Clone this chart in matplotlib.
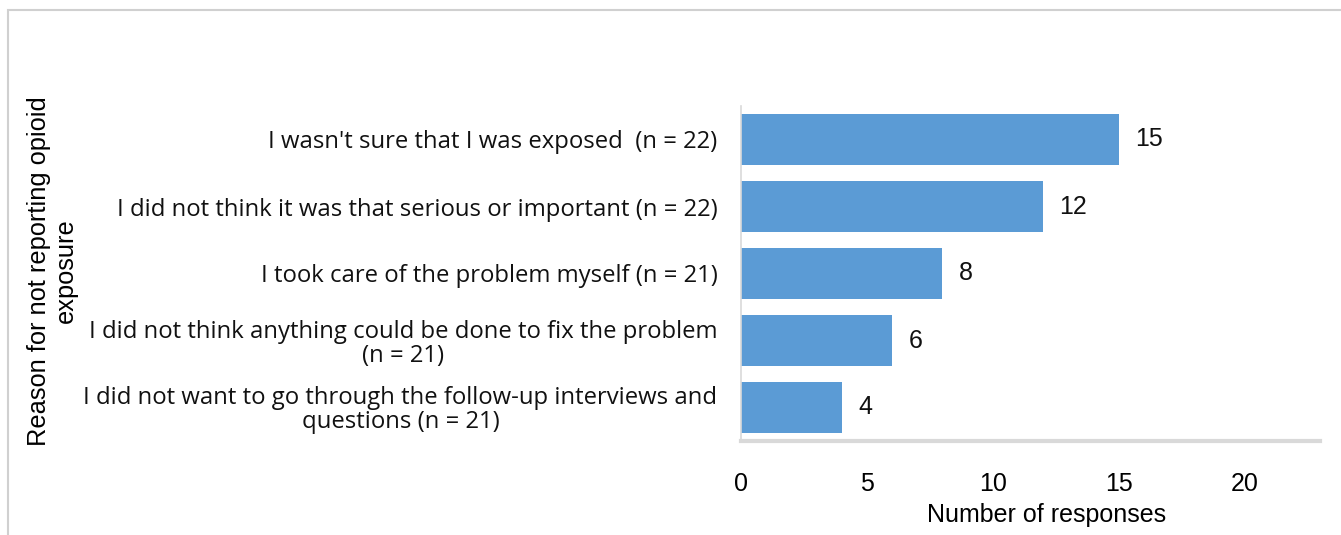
import matplotlib
matplotlib.use("Agg")
import matplotlib.pyplot as plt
from matplotlib.patches import Rectangle

categories = [
    "I wasn't sure that I was exposed  (n = 22)",
    "I did not think it was that serious or important (n = 22)",
    "I took care of the problem myself (n = 21)",
    "I did not think anything could be done to fix the problem\n(n = 21)",
    "I did not want to go through the follow-up interviews and\nquestions (n = 21)",
]
values = [15, 12, 8, 6, 4]
xticks = [0, 5, 10, 15, 20]

W, H = 1341, 535
fig = plt.figure(figsize=(W / 100, H / 100), dpi=100)
fig.patch.set_facecolor("white")

# outer chart border (top and left visible)
fig.patches.append(Rectangle((8 / W, -0.1), 1.2, 1.1 - 10 / H, transform=fig.transFigure,
                             fill=False, edgecolor="#d0d0d0", linewidth=1.5))

ax = fig.add_axes([741 / W, 1 - 441 / H, (1320 - 741) / W, (441 - 106) / H])
y = list(range(len(categories)))
ax.barh(y, values, height=0.76, color="#5b9bd5", edgecolor="none")
ax.set_ylim(len(categories) - 0.5, -0.5)
ax.set_xlim(0, 23)
ax.set_yticks(y)
ax.set_yticklabels(categories, fontsize=17.2, family="Open Sans", color="#111111",
                   multialignment="center", linespacing=1.0)
ax.set_xticks(xticks)
ax.set_xticklabels([str(t) for t in xticks], fontsize=18, family="Liberation Sans")
ax.tick_params(axis="both", length=0)
ax.tick_params(axis="x", pad=22)
ax.tick_params(axis="y", pad=17)

for s in ["top", "right"]:
    ax.spines[s].set_visible(False)
ax.spines["left"].set_color("#d9d9d9")
ax.spines["left"].set_linewidth(1.2)
ax.spines["bottom"].set_color("#d9d9d9")
ax.spines["bottom"].set_linewidth(3)

for yi, v in zip(y, values):
    ax.text(v + 0.65, yi, str(v), va="center", ha="left", fontsize=18,
            family="Liberation Sans", color="#111111")

ax.set_xlabel("Number of responses", fontsize=18, family="Liberation Sans",
              fontweight="normal")
ax.xaxis.set_label_coords((1047 - 741) / (1320 - 741), -0.222)
ax.xaxis.label.set_va("center")
fig.text(52 / W, 1 - 271 / H, "Reason for not reporting opioid\nexposure", rotation=90,
         ha="center", va="center", fontsize=18.3, family="Liberation Sans",
         multialignment="center", linespacing=1.15)

fig.savefig("out.png", dpi=100)
